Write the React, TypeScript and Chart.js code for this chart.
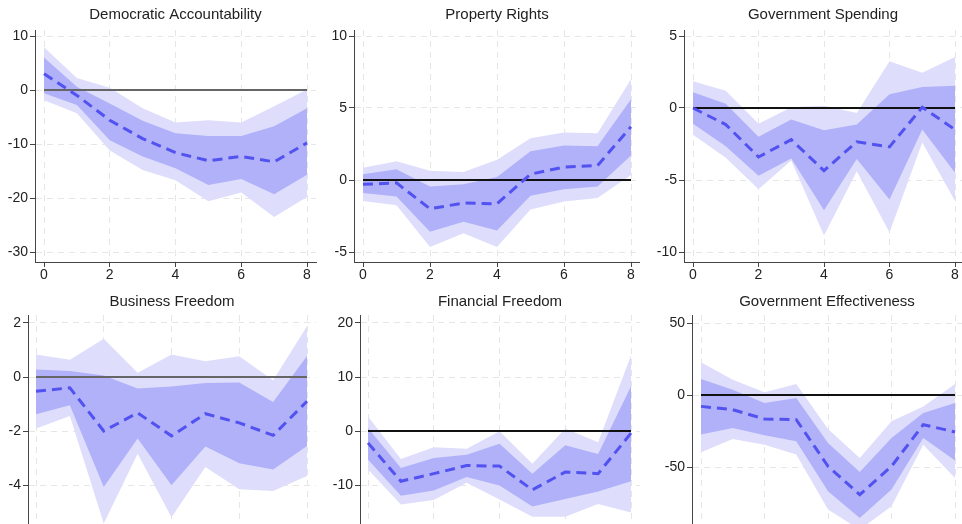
import React, { useEffect, useRef } from "react";
import { Chart, registerables } from "chart.js";
Chart.register(...registerables);

// ---------- data ----------
const horizons = [0, 1, 2, 3, 4, 5, 6, 7, 8];
const xTickValues = [0, 2, 4, 6, 8];
const refLineX = [0, 8];
const refLineY = 0;

// Democratic Accountability
const daMean = [3.0, -1.0, -5.6, -9.0, -11.6, -13.1, -12.3, -13.3, -9.8];
const daInnerHi = [6.0, 0.6, -2.5, -5.7, -8.0, -8.5, -8.5, -6.7, -3.4];
const daInnerLo = [-0.6, -2.8, -9.3, -12.3, -14.5, -17.6, -16.5, -19.3, -15.7];
const daOuterHi = [7.9, 2.2, 0.4, -3.4, -6.0, -5.6, -6.0, -3.0, 0.1];
const daOuterLo = [-1.9, -4.3, -11.2, -14.8, -16.7, -20.6, -19.0, -23.5, -19.8];
const daYTicks = [10, 0, -10, -20, -30];

// Property Rights
const prMean = [-0.3, -0.2, -2.0, -1.6, -1.65, 0.4, 0.9, 1.0, 3.7];
const prInnerHi = [0.4, 0.75, -0.45, -0.3, 0.2, 2.0, 2.4, 2.35, 5.6];
const prInnerLo = [-0.9, -1.15, -3.6, -2.9, -3.5, -1.1, -0.65, -0.45, 1.7];
const prOuterHi = [0.85, 1.3, 0.65, 0.55, 1.4, 2.9, 3.3, 3.25, 7.0];
const prOuterLo = [-1.45, -1.75, -4.65, -3.7, -4.65, -2.05, -1.5, -1.25, 0.35];
const prYTicks = [10, 5, 0, -5];

// Government Spending
const gsMean = [0.0, -1.15, -3.4, -2.2, -4.35, -2.35, -2.7, 0.05, -1.5];
const gsInnerHi = [1.1, 0.3, -2.0, -0.8, -1.55, -1.15, 0.95, 1.45, 1.55];
const gsInnerLo = [-1.1, -2.65, -4.7, -3.5, -7.1, -3.55, -6.35, -1.5, -4.5];
const gsOuterHi = [1.85, 1.2, -1.1, 0.05, 0.15, -0.35, 3.25, 2.45, 3.55];
const gsOuterLo = [-1.85, -3.45, -5.65, -3.65, -8.85, -4.4, -8.65, -2.4, -6.45];
const gsYTicks = [5, 0, -5, -10];

// Business Freedom
const bfMean = [-0.53, -0.4, -2.0, -1.33, -2.18, -1.36, -1.7, -2.16, -0.9];
const bfInnerHi = [0.28, 0.22, 0.06, -0.43, -0.35, -0.22, -0.2, -0.93, 0.78];
const bfInnerLo = [-1.38, -1.05, -4.07, -2.28, -4.01, -2.57, -3.19, -3.43, -2.56];
const bfOuterHi = [0.83, 0.64, 1.42, 0.16, 0.83, 0.58, 0.77, -0.12, 1.88];
const bfOuterLo = [-1.91, -1.44, -5.43, -2.84, -5.19, -3.33, -4.16, -4.22, -3.67];
const bfYTicks = [2, 0, -2, -4];

// Financial Freedom
const ffMean = [-2.2, -9.3, -7.9, -6.4, -6.5, -10.9, -7.6, -7.9, -0.4];
const ffInnerHi = [0.55, -6.85, -5.0, -4.4, -2.35, -7.9, -2.65, -4.25, 8.3];
const ffInnerLo = [-5.3, -12.0, -11.0, -8.5, -10.1, -14.0, -12.6, -11.2, -9.3];
const ffOuterHi = [2.7, -5.2, -3.0, -3.3, -0.05, -6.05, 0.45, -2.1, 14.0];
const ffOuterLo = [-7.15, -13.6, -12.8, -9.6, -12.7, -15.9, -15.9, -13.5, -15.1];
const ffYTicks = [20, 10, 0, -10];

// Government Effectiveness
const geMean = [-7.9, -10.2, -16.7, -17.1, -49.5, -69.2, -49.5, -20.6, -25.7];
const geInnerHi = [11.1, 3.7, -5.6, -2.1, -33.3, -53.5, -29.9, -12.5, -5.6];
const geInnerLo = [-27.5, -22.9, -28.0, -32.2, -66.9, -85.4, -65.7, -29.9, -45.4];
const geOuterHi = [22.7, 10.6, 1.85, 7.6, -23.6, -43.75, -18.3, -7.9, 7.6];
const geOuterLo = [-39.8, -30.6, -34.5, -41.4, -79.6, -93.5, -77.3, -34.5, -57.6];
const geYTicks = [50, 0, -50];

// ---------- styles ----------
const OUTER = "rgb(222,222,252)";
const INNER = "rgb(177,177,250)";
const LINE = "rgb(82,82,240)";
const GRID = "#e6e6e6";
const AXIS = "#444";
const FONT = "'Liberation Sans', Arial, Helvetica, sans-serif";

type PanelCfg = {
  title: string;
  mean: number[]; innerHi: number[]; innerLo: number[]; outerHi: number[]; outerLo: number[];
  yTicks: number[];
  box: { x: number; y: number; w: number; h: number };
  L: number; R: number; T: number; B: number;
  x0: number; x8: number;
  yRef: [number, number, number, number]; // v1, p1, v2, p2
  showX: boolean;
  zeroColor: string;
  titlePad: { top: number; bottom: number };
};

const TOP = { top: 6, bottom: 6 };
const BOT = { top: 8, bottom: 4 };

const panels: PanelCfg[] = [
  { title: "Democratic Accountability", mean: daMean, innerHi: daInnerHi, innerLo: daInnerLo, outerHi: daOuterHi, outerLo: daOuterLo, yTicks: daYTicks,
    box: { x: 0, y: 0, w: 320, h: 285 }, L: 35, R: 316, T: 30, B: 262, x0: 44, x8: 307, yRef: [10, 36, -30, 252], showX: true, zeroColor: "#666", titlePad: TOP },
  { title: "Property Rights", mean: prMean, innerHi: prInnerHi, innerLo: prInnerLo, outerHi: prOuterHi, outerLo: prOuterLo, yTicks: prYTicks,
    box: { x: 320, y: 0, w: 320, h: 285 }, L: 34, R: 320, T: 30, B: 262, x0: 43, x8: 311, yRef: [10, 36, -5, 252], showX: true, zeroColor: "#111", titlePad: TOP },
  { title: "Government Spending", mean: gsMean, innerHi: gsInnerHi, innerLo: gsInnerLo, outerHi: gsOuterHi, outerLo: gsOuterLo, yTicks: gsYTicks,
    box: { x: 640, y: 0, w: 322, h: 285 }, L: 44, R: 322, T: 30, B: 262, x0: 53, x8: 315, yRef: [5, 36, -10, 252], showX: true, zeroColor: "#111", titlePad: TOP },
  { title: "Business Freedom", mean: bfMean, innerHi: bfInnerHi, innerLo: bfInnerLo, outerHi: bfOuterHi, outerLo: bfOuterLo, yTicks: bfYTicks,
    box: { x: 0, y: 285, w: 320, h: 239 }, L: 28, R: 316, T: 30, B: 239, x0: 36, x8: 307, yRef: [2, 38, -4, 200], showX: false, zeroColor: "#666", titlePad: BOT },
  { title: "Financial Freedom", mean: ffMean, innerHi: ffInnerHi, innerLo: ffInnerLo, outerHi: ffOuterHi, outerLo: ffOuterLo, yTicks: ffYTicks,
    box: { x: 320, y: 285, w: 320, h: 239 }, L: 40, R: 320, T: 30, B: 239, x0: 48, x8: 311, yRef: [20, 38, -10, 200], showX: false, zeroColor: "#111", titlePad: BOT },
  { title: "Government Effectiveness", mean: geMean, innerHi: geInnerHi, innerLo: geInnerLo, outerHi: geOuterHi, outerLo: geOuterLo, yTicks: geYTicks,
    box: { x: 640, y: 285, w: 322, h: 239 }, L: 52, R: 322, T: 30, B: 239, x0: 61, x8: 315, yRef: [50, 38, -50, 182], showX: false, zeroColor: "#111", titlePad: BOT },
];

function pts(vals: number[]) {
  return horizons.map((h, i) => ({ x: h, y: vals[i] }));
}

function Panel({ cfg }: { cfg: PanelCfg }) {
  const ref = useRef<HTMLCanvasElement>(null);
  useEffect(() => {
    const { box, L, R, T, B, x0, x8, yRef } = cfg;
    const xpu = (x8 - x0) / 8;
    const xmin = 0 - (x0 - L) / xpu;
    const xmax = 8 + (R - x8) / xpu;
    const [v1, p1, v2, p2] = yRef;
    const ypu = (p2 - p1) / (v1 - v2);
    const ymax = v1 + (p1 - T) / ypu;
    const ymin = v2 - (B - p2) / ypu;

    const band = (vals: number[], fill: any, color: string, order: number) => ({
      data: pts(vals), fill, backgroundColor: color, borderColor: "transparent", borderWidth: 0,
      pointRadius: 0, tension: 0, order,
    });

    const chart = new Chart(ref.current!, {
      type: "line",
      data: {
        datasets: [
          band(cfg.outerHi, "+1", OUTER, 5),
          band(cfg.outerLo, false, OUTER, 4),
          band(cfg.innerHi, "+1", INNER, 3),
          band(cfg.innerLo, false, INNER, 2),
          {
            data: refLineX.map((x) => ({ x, y: refLineY })), borderColor: cfg.zeroColor, borderWidth: 2,
            pointRadius: 0, fill: false, order: 1,
          },
          {
            data: pts(cfg.mean), borderColor: LINE, borderWidth: 3, borderDash: [10, 6],
            pointRadius: 0, fill: false, tension: 0, order: 0,
          },
        ] as any,
      },
      options: {
        animation: false,
        responsive: false,
        devicePixelRatio: 1,
        events: [],
        layout: { padding: { left: 0, right: box.w - R, top: 0, bottom: 0 }, autoPadding: false } as any,
        plugins: {
          legend: { display: false },
          tooltip: { enabled: false },
          title: {
            display: true, text: cfg.title, fullSize: false, color: "#222",
            font: { family: FONT, size: 15, weight: "normal" as any }, padding: cfg.titlePad,
          },
        },
        scales: {
          x: {
            type: "linear", min: xmin, max: xmax,
            afterBuildTicks: (s: any) => { s.ticks = xTickValues.map((v) => ({ value: v })); },
            afterFit: (s: any) => {
              s.height = box.h - B;
              s.paddingLeft = 0; s.paddingRight = 0; s.paddingTop = 0; s.paddingBottom = 0;
            },
            grid: { color: GRID, lineWidth: 1, drawTicks: cfg.showX, tickLength: 5, tickColor: AXIS, tickWidth: 1 },
            border: { display: cfg.showX, color: AXIS, width: 1, dash: [6, 5] },
            ticks: { display: cfg.showX, color: "#222", font: { family: FONT, size: 14 }, padding: 0, autoSkip: false, maxRotation: 0, callback: (v: any) => String(v) },
          },
          y: {
            type: "linear", min: ymin, max: ymax,
            afterBuildTicks: (s: any) => { s.ticks = cfg.yTicks.map((v) => ({ value: v })); },
            afterFit: (s: any) => {
              s.width = L;
              s.paddingLeft = 0; s.paddingRight = 0; s.paddingTop = 0; s.paddingBottom = 0;
            },
            grid: { color: GRID, lineWidth: 1, drawTicks: true, tickLength: 5, tickColor: AXIS, tickWidth: 1 },
            border: { display: true, color: AXIS, width: 1, dash: [6, 5] },
            ticks: { color: "#222", font: { family: FONT, size: 14 }, padding: 2, autoSkip: false, callback: (v: any) => String(v) },
          },
        },
      } as any,
    });
    return () => chart.destroy();
  }, [cfg]);

  return (
    <canvas
      ref={ref}
      width={cfg.box.w}
      height={cfg.box.h}
      style={{ position: "absolute", left: cfg.box.x, top: cfg.box.y, width: cfg.box.w, height: cfg.box.h }}
    />
  );
}

export default function App() {
  return (
    <div style={{ position: "fixed", left: 0, top: 0, width: 962, height: 524, overflow: "hidden", background: "#fff" }}>
      {panels.map((p) => (
        <Panel key={p.title} cfg={p} />
      ))}
    </div>
  );
}
